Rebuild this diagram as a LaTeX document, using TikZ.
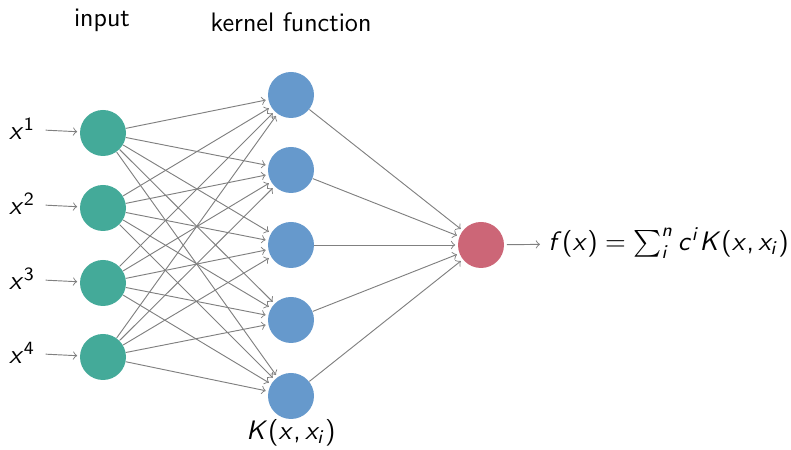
\RequirePackage{fix-cm}
\documentclass[tikz,border=0pt]{standalone}
\usepackage{amsmath,amssymb}
\usepackage{xcolor}
\usetikzlibrary{positioning,arrows.meta}

% sans-serif math letters, as in a slide
\DeclareSymbolFont{sflet}{OT1}{cmss}{m}{sl}
\DeclareSymbolFont{sfup}{OT1}{cmss}{m}{n}
\DeclareMathSymbol{x}{\mathalpha}{sflet}{`x}
\DeclareMathSymbol{f}{\mathalpha}{sflet}{`f}
\DeclareMathSymbol{c}{\mathalpha}{sflet}{`c}
\DeclareMathSymbol{i}{\mathalpha}{sflet}{`i}
\DeclareMathSymbol{n}{\mathalpha}{sflet}{`n}
\DeclareMathSymbol{K}{\mathalpha}{sflet}{`K}
\DeclareMathSymbol{1}{\mathalpha}{sfup}{`1}
\DeclareMathSymbol{2}{\mathalpha}{sfup}{`2}
\DeclareMathSymbol{3}{\mathalpha}{sfup}{`3}
\DeclareMathSymbol{4}{\mathalpha}{sfup}{`4}
\DeclareMathSymbol{(}{\mathopen}{sfup}{`(}
\DeclareMathSymbol{)}{\mathclose}{sfup}{`)}
\DeclareMathSymbol{=}{\mathrel}{sfup}{`=}
\DeclareMathSymbol{,}{\mathpunct}{sfup}{`,}

\definecolor{inputteal}{HTML}{44AA99}
\definecolor{kernelblue}{HTML}{6699CC}
\definecolor{outputrose}{HTML}{CC6677}

\tikzset{
  neuron/.style={circle,minimum size=0.69cm,inner sep=0pt},
  link/.style={->,gray,line width=0.4pt,shorten >=1pt}
}

\begin{document}
\begin{tikzpicture}[x=0.015cm,y=0.015cm,>=to,font=\fontsize{11.4}{13}\sffamily]
\useasboundingbox (0,0) rectangle (791,450);
% headers
\node (hin) at (102,430) {input};
\node (hker) at (291,428) {kernel function};
% input layer
\foreach \i/\y in {1/317,2/242,3/167,4/93} {
  \node[neuron,fill=inputteal] (in\i) at (103,\y) {};
  \node (x\i) at (22,\y+4) {$x^{\i}$};
  \draw[link,shorten <=1pt] (x\i) -- (in\i);
}
% kernel layer
\foreach \j/\y in {1/355,2/280,3/205,4/130,5/54}
  \node[neuron,fill=kernelblue] (k\j) at (291,\y) {};
\node (kx) at (291,17) {$K(x,x_i)$};
% output
\node[neuron,fill=outputrose] (out) at (481,205) {};
\node[anchor=west] (fx) at (540,207) {$f(x)=\sum_i^n c^i K(x,x_i)$};
% connections
\foreach \i in {1,...,4}
  \foreach \j in {1,...,5}
    \draw[link] (in\i) -- (k\j);
\foreach \j in {1,...,5}
  \draw[link] (k\j) -- (out);
\draw[link,shorten <=1pt,shorten >=0pt] (out) -- (fx);
\end{tikzpicture}
\end{document}
